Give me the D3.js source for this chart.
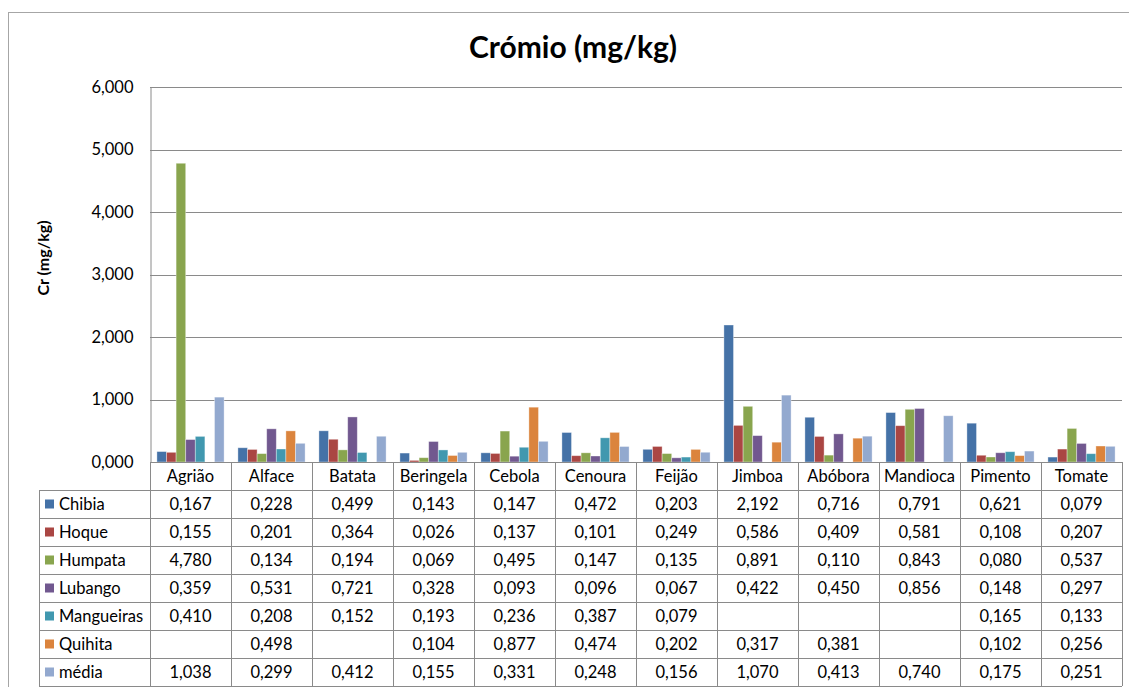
<!DOCTYPE html>
<html>
<head>
<meta charset="utf-8">
<script src="https://cdn.jsdelivr.net/npm/d3@7"></script>
<style>
  html, body { margin: 0; padding: 0; background: #fff; }
  svg { display: block; font-family: Lato, "Open Sans", sans-serif; }
</style>
</head>
<body>
<svg id="chart" width="1129" height="687"></svg>
<script>
// Chromium content per vegetable and sampling site (mg/kg)
const categories = ["Agrião", "Alface", "Batata", "Beringela", "Cebola", "Cenoura",
                    "Feijão", "Jimboa", "Abóbora", "Mandioca", "Pimento", "Tomate"];
const seriesNames = ["Chibia", "Hoque", "Humpata", "Lubango", "Mangueiras", "Quihita", "média"];

const chibia     = [0.167, 0.228, 0.499, 0.143, 0.147, 0.472, 0.203, 2.192, 0.716, 0.791, 0.621, 0.079];
const hoque      = [0.155, 0.201, 0.364, 0.026, 0.137, 0.101, 0.249, 0.586, 0.409, 0.581, 0.108, 0.207];
const humpata    = [4.780, 0.134, 0.194, 0.069, 0.495, 0.147, 0.135, 0.891, 0.110, 0.843, 0.080, 0.537];
const lubango    = [0.359, 0.531, 0.721, 0.328, 0.093, 0.096, 0.067, 0.422, 0.450, 0.856, 0.148, 0.297];
const mangueiras = [0.410, 0.208, 0.152, 0.193, 0.236, 0.387, 0.079, null, null, null, 0.165, 0.133];
const quihita    = [null, 0.498, null, 0.104, 0.877, 0.474, 0.202, 0.317, 0.381, null, 0.102, 0.256];
const media      = [1.038, 0.299, 0.412, 0.155, 0.331, 0.248, 0.156, 1.070, 0.413, 0.740, 0.175, 0.251];

const yTicks = [0, 1, 2, 3, 4, 5, 6];
const colors = ["#4572A7", "#AA4643", "#89A54E", "#71588F", "#4198AF", "#DB843D", "#93A9CF"];

const seriesValues = [chibia, hoque, humpata, lubango, mangueiras, quihita, media];

const ptLocale = d3.formatLocale({ decimal: ",", thousands: ".", grouping: [3], currency: ["", ""] });
const fmt = ptLocale.format(".3f");

const svg = d3.select("#chart");
const gridColor = "#8a8a8a";
const fs = 16.5;

// outer chart frame
svg.append("rect")
  .attr("x", 8.5).attr("y", 12.5)
  .attr("width", 1140).attr("height", 700)
  .attr("fill", "#fff").attr("stroke", "#a6a6a6");

const plotLeft = 150, plotRight = 1122, plotTop = 87, plotBottom = 462;

const x = d3.scaleBand().domain(categories).range([plotLeft, plotRight]).paddingInner(0).paddingOuter(0);
const xs = d3.scaleBand().domain(seriesNames).range([0, x.bandwidth()]).paddingInner(0).paddingOuter(0.72);
const y = d3.scaleLinear().domain([0, 6]).range([plotBottom, plotTop]);

// title
svg.append("text")
  .attr("x", 573).attr("y", 58)
  .attr("text-anchor", "middle")
  .attr("font-size", 30).attr("font-weight", "bold")
  .attr("fill", "#000")
  .text("Crómio (mg/kg)");

// y axis title
svg.append("text")
  .attr("transform", `translate(49,258) rotate(-90)`)
  .attr("text-anchor", "middle")
  .attr("font-size", 16).attr("font-weight", "bold")
  .text("Cr (mg/kg)");

// gridlines
svg.append("g").selectAll("line").data(yTicks.filter(d => d > 0)).join("line")
  .attr("x1", plotLeft).attr("x2", plotRight)
  .attr("y1", d => Math.round(y(d)) + 0.5).attr("y2", d => Math.round(y(d)) + 0.5)
  .attr("stroke", gridColor).attr("stroke-width", 1);

// y axis
const yAxis = d3.axisLeft(y).tickValues(yTicks).tickFormat(fmt).tickSize(0).tickPadding(17);
const gy = svg.append("g").attr("transform", `translate(${plotLeft + 0.5},0)`).call(yAxis);
gy.select(".domain").attr("stroke", gridColor);
gy.selectAll("text").attr("font-size", fs).attr("font-family", "Lato, sans-serif").attr("fill", "#000");

// bars
const groups = svg.append("g").selectAll("g").data(categories).join("g")
  .attr("transform", d => `translate(${x(d)},0)`);
groups.selectAll("rect")
  .data((c, i) => seriesNames.map((s, j) => ({ s, v: seriesValues[j][i], j })).filter(d => d.v != null))
  .join("rect")
  .attr("x", d => xs(d.s))
  .attr("width", xs.bandwidth())
  .attr("y", d => y(d.v))
  .attr("height", d => plotBottom - y(d.v))
  .attr("fill", d => colors[d.j])
  .attr("stroke", "rgba(255,255,255,0.45)")
  .attr("stroke-width", 0.8);

// data table
const rowH = 28;
const headerTop = plotBottom, headerBottom = plotBottom + rowH;
const tableLeft = 39;
const tableBottom = headerBottom + rowH * seriesNames.length;
const tbl = svg.append("g");

// horizontal lines
tbl.append("line").attr("x1", plotLeft).attr("x2", plotRight)
  .attr("y1", headerTop + 0.5).attr("y2", headerTop + 0.5).attr("stroke", gridColor);
d3.range(seriesNames.length + 1).forEach(i => {
  const yy = headerBottom + i * rowH + 0.5;
  tbl.append("line").attr("x1", tableLeft).attr("x2", plotRight)
    .attr("y1", yy).attr("y2", yy).attr("stroke", gridColor);
});
// vertical lines
tbl.append("line").attr("x1", tableLeft + 0.5).attr("x2", tableLeft + 0.5)
  .attr("y1", headerBottom).attr("y2", tableBottom).attr("stroke", gridColor);
d3.range(categories.length + 1).forEach(i => {
  const xx = Math.round(plotLeft + i * x.bandwidth()) + 0.5;
  tbl.append("line").attr("x1", xx).attr("x2", xx)
    .attr("y1", headerTop).attr("y2", tableBottom).attr("stroke", gridColor);
});

// header labels
tbl.selectAll("text.cat").data(categories).join("text")
  .attr("class", "cat")
  .attr("x", d => x(d) + x.bandwidth() / 2)
  .attr("y", headerTop + 20)
  .attr("text-anchor", "middle")
  .attr("font-size", fs)
  .text(d => d);

// legend column and values
seriesNames.forEach((s, j) => {
  const cy = headerBottom + j * rowH + rowH / 2;
  tbl.append("rect").attr("x", 45).attr("y", cy - 4.5).attr("width", 9).attr("height", 9)
    .attr("fill", colors[j]);
  tbl.append("text").attr("x", 59).attr("y", cy + 6)
    .attr("font-size", fs).text(s);
  categories.forEach((c, i) => {
    const v = seriesValues[j][i];
    if (v == null) return;
    tbl.append("text")
      .attr("x", x(c) + x.bandwidth() / 2)
      .attr("y", cy + 6)
      .attr("text-anchor", "middle")
      .attr("font-size", fs)
      .text(fmt(v));
  });
});
</script>
</body>
</html>
